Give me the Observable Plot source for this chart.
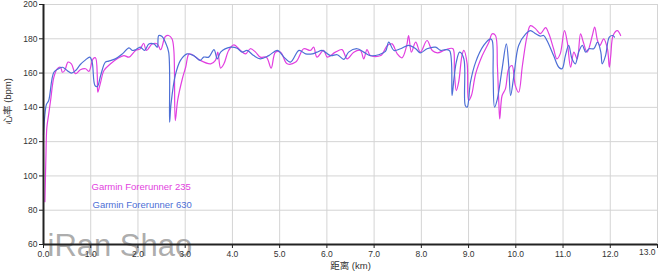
<!DOCTYPE html>
<html>
<head>
<meta charset="utf-8">
<script src="https://cdn.jsdelivr.net/npm/d3@7"></script>
<script src="https://cdn.jsdelivr.net/npm/@observablehq/plot@0.6"></script>
<style>
  html, body { margin: 0; padding: 0; background: #fff; }
  #chart svg { display: block; }
</style>
</head>
<body>
<div id="chart"></div>
<script>
const xTicks = [0, 1, 2, 3, 4, 5, 6, 7, 8, 9, 10, 11, 12, 13];
const yTicks = [60, 80, 100, 120, 140, 160, 180, 200];
const seriesNames = ["Garmin Forerunner 235", "Garmin Forerunner 630"];
const xLabel = "距离 (km)";
const yLabel = "心率 (bpm)";
const watermark = "iRan Shao";

// Garmin Forerunner 235 (magenta)
const dist235 = [0.03, 0.05, 0.07, 0.11, 0.15, 0.22, 0.29, 0.36, 0.40, 0.45, 0.52, 0.59, 0.68, 0.78, 0.89, 0.96, 1.05, 1.10, 1.14, 1.15, 1.21, 1.28, 1.42, 1.56, 1.70, 1.81, 1.95, 2.05, 2.12, 2.18, 2.30, 2.41, 2.48, 2.58, 2.65, 2.72, 2.76, 2.79, 2.84, 2.94, 3.01, 3.08, 3.15, 3.32, 3.54, 3.64, 3.69, 3.75, 3.82, 3.92, 4.03, 4.17, 4.28, 4.38, 4.49, 4.59, 4.72, 4.82, 4.91, 5.02, 5.16, 5.34, 5.51, 5.65, 5.72, 5.79, 5.93, 6.01, 6.18, 6.32, 6.43, 6.57, 6.71, 6.78, 6.85, 6.92, 7.14, 7.28, 7.38, 7.49, 7.59, 7.69, 7.73, 7.79, 7.88, 7.98, 8.12, 8.23, 8.34, 8.48, 8.58, 8.67, 8.70, 8.74, 8.79, 8.86, 8.90, 8.97, 9.00, 9.06, 9.15, 9.29, 9.43, 9.50, 9.57, 9.61, 9.64, 9.66, 9.71, 9.78, 9.85, 9.92, 9.99, 10.06, 10.14, 10.24, 10.31, 10.42, 10.52, 10.63, 10.70, 10.80, 10.87, 10.94, 11.03, 11.09, 11.16, 11.23, 11.30, 11.37, 11.43, 11.51, 11.62, 11.67, 11.73, 11.78, 11.86, 11.94, 11.98, 12.01, 12.06, 12.15, 12.22];
const hr235 = [85, 110, 128, 136, 144, 157.6, 162.5, 163.4, 160.5, 161.5, 166.4, 165.4, 159.6, 161.9, 162.5, 161, 168.3, 168.9, 157.6, 148.8, 154.7, 161.5, 165.4, 168.3, 170.2, 169.3, 173.2, 174.2, 177.4, 173.2, 177, 177, 173.6, 181.3, 181.9, 180, 173.2, 132.3, 144, 156.7, 163.4, 171.2, 170.7, 167.4, 165.4, 167.4, 172.2, 162.9, 165.4, 173.2, 176.5, 173.2, 171.2, 174.2, 172.2, 169.3, 169.3, 162.9, 172.2, 172.2, 165.4, 166.4, 174.2, 173.2, 175.1, 169.3, 173.2, 169.3, 172.2, 173.7, 168.3, 172.2, 173.2, 168.3, 173.7, 170.2, 170.2, 176.1, 177, 171.2, 168.9, 176.1, 181.9, 172.2, 178, 172.2, 179, 173.2, 171.8, 173.2, 174.2, 174.2, 160.5, 149.8, 154.7, 170.2, 173.2, 165.4, 144, 146.9, 159.6, 170.2, 178, 182.9, 181.9, 164.4, 143, 133.3, 146.9, 150.8, 162.5, 164.4, 152.7, 148.8, 164.4, 181.9, 187.7, 185.8, 183, 186.5, 182.9, 174.2, 168.3, 171.2, 184.8, 178, 163.4, 172.2, 168.3, 182.9, 178, 172.2, 181.9, 186.8, 179, 176.1, 180, 174.2, 163.4, 170.2, 181.9, 184.8, 181.9];

// Garmin Forerunner 630 (blue)
const dist630 = [0.00, 0.03, 0.06, 0.11, 0.22, 0.32, 0.40, 0.50, 0.59, 0.68, 0.78, 0.89, 0.98, 1.03, 1.09, 1.14, 1.21, 1.31, 1.38, 1.52, 1.67, 1.81, 1.88, 1.95, 2.05, 2.14, 2.23, 2.34, 2.41, 2.44, 2.51, 2.58, 2.65, 2.67, 2.70, 2.79, 2.90, 3.04, 3.18, 3.32, 3.39, 3.50, 3.61, 3.68, 3.75, 3.96, 4.10, 4.21, 4.31, 4.45, 4.59, 4.77, 4.95, 5.09, 5.23, 5.41, 5.55, 5.69, 5.79, 5.90, 6.08, 6.22, 6.36, 6.46, 6.64, 6.78, 6.92, 7.10, 7.24, 7.31, 7.42, 7.56, 7.73, 7.88, 7.98, 8.12, 8.30, 8.41, 8.51, 8.60, 8.65, 8.69, 8.74, 8.81, 8.90, 8.93, 8.97, 9.04, 9.15, 9.32, 9.46, 9.50, 9.52, 9.55, 9.61, 9.71, 9.80, 9.85, 9.89, 9.96, 10.06, 10.21, 10.31, 10.42, 10.52, 10.59, 10.66, 10.80, 10.91, 10.98, 11.05, 11.12, 11.19, 11.26, 11.33, 11.41, 11.48, 11.55, 11.65, 11.73, 11.80, 11.83, 11.90, 11.98, 12.05, 12.09];
const hr630 = [124, 136, 141.6, 144, 160.5, 162.5, 163.4, 161.5, 160, 161.5, 165, 167.7, 169.3, 166.4, 152.7, 152.2, 158.6, 166.4, 167, 168.3, 171.2, 174.7, 173.2, 173.6, 175.1, 173.2, 177, 177, 175.1, 181.9, 181.3, 178, 172.2, 131.3, 142, 158.6, 167.4, 171.2, 170.2, 167.4, 169.3, 169.3, 173.7, 168.3, 172.2, 175.1, 174.5, 172.2, 173.2, 170.2, 168.3, 170.2, 173.2, 169.3, 166.4, 173.2, 171.2, 171.2, 172.2, 173.2, 170.2, 170.7, 168, 172.2, 174.2, 172.2, 170.2, 170.7, 172.6, 178, 173.2, 174.2, 176.1, 174.2, 171.8, 174.2, 175.1, 173.2, 173.7, 173, 146.9, 156.6, 166.4, 172.2, 168.3, 141.1, 140.1, 154.7, 166.4, 176.1, 180, 179, 158.6, 140.1, 145, 162.5, 177, 164.4, 146.9, 158.6, 176.1, 182.9, 184.8, 182.9, 181.5, 181.9, 179, 170.2, 163.4, 162.5, 170.2, 176.1, 168.3, 165.4, 172.2, 176.1, 172.2, 174.2, 174.2, 178, 172.2, 165.4, 170.2, 181, 181.9, 181];

const colors = ["#e23fe0", "#4d6fd6"];
const fmt = d3.format(".1f");

const data235 = dist235.map((d, i) => ({d, hr: hr235[i]}));
const data630 = dist630.map((d, i) => ({d, hr: hr630[i]}));
const innerTicks = xTicks.slice(0, -1);
const lastTick = xTicks.slice(-1);

const chart = Plot.plot({
  width: 660,
  height: 280,
  marginLeft: 43,
  marginRight: 3,
  marginTop: 4,
  marginBottom: 36,
  style: {fontFamily: "'Liberation Sans', Arial, 'Noto Sans CJK SC', sans-serif", fontSize: "8.5px", color: "#333", background: "#fff"},
  x: {domain: [0, 13]},
  y: {domain: [60, 200]},
  marks: [
    Plot.gridX(xTicks, {stroke: "#d4d4d4", strokeOpacity: 1}),
    Plot.gridY(yTicks, {stroke: "#d4d4d4", strokeOpacity: 1}),
    Plot.line(data235, {x: "d", y: "hr", stroke: colors[0], strokeWidth: 1.2, curve: "catmull-rom"}),
    Plot.line(data630, {x: "d", y: "hr", stroke: colors[1], strokeWidth: 1.2, curve: "catmull-rom"}),
    Plot.text([watermark], {frameAnchor: "bottom-left", dx: 4, dy: 11, textAnchor: "start", fontSize: 31, fill: "#888", fillOpacity: 0.7}),
    Plot.axisX({ticks: xTicks, tickFormat: () => "", tickSize: 4, label: null, stroke: "#222"}),
    Plot.axisX({ticks: innerTicks, tickFormat: fmt, tickSize: 0, tickPadding: 6, label: null}),
    Plot.text(lastTick, {x: d => d, text: fmt, frameAnchor: "bottom", dy: 10, dx: -2, textAnchor: "end", fill: "#333"}),
    Plot.axisY({ticks: yTicks, tickSize: 4, tickPadding: 2, label: null, stroke: "#222"}),
    Plot.ruleX([0], {stroke: "#222", strokeWidth: 2}),
    Plot.ruleY([60], {stroke: "#222", strokeWidth: 2}),
    Plot.text([xLabel], {frameAnchor: "bottom", dy: 24, fontSize: 9.5, fill: "#333"}),
    Plot.text([yLabel], {frameAnchor: "left", dx: -36, rotate: -90, fontSize: 9.5, fill: "#333"}),
    Plot.text([seriesNames[0]], {frameAnchor: "top-left", dx: 48, dy: 179, textAnchor: "start", fontSize: 9.5, fill: colors[0]}),
    Plot.text([seriesNames[1]], {frameAnchor: "top-left", dx: 49, dy: 197, textAnchor: "start", fontSize: 9.5, fill: colors[1]})
  ]
});
document.getElementById("chart").appendChild(chart);
</script>
</body>
</html>
